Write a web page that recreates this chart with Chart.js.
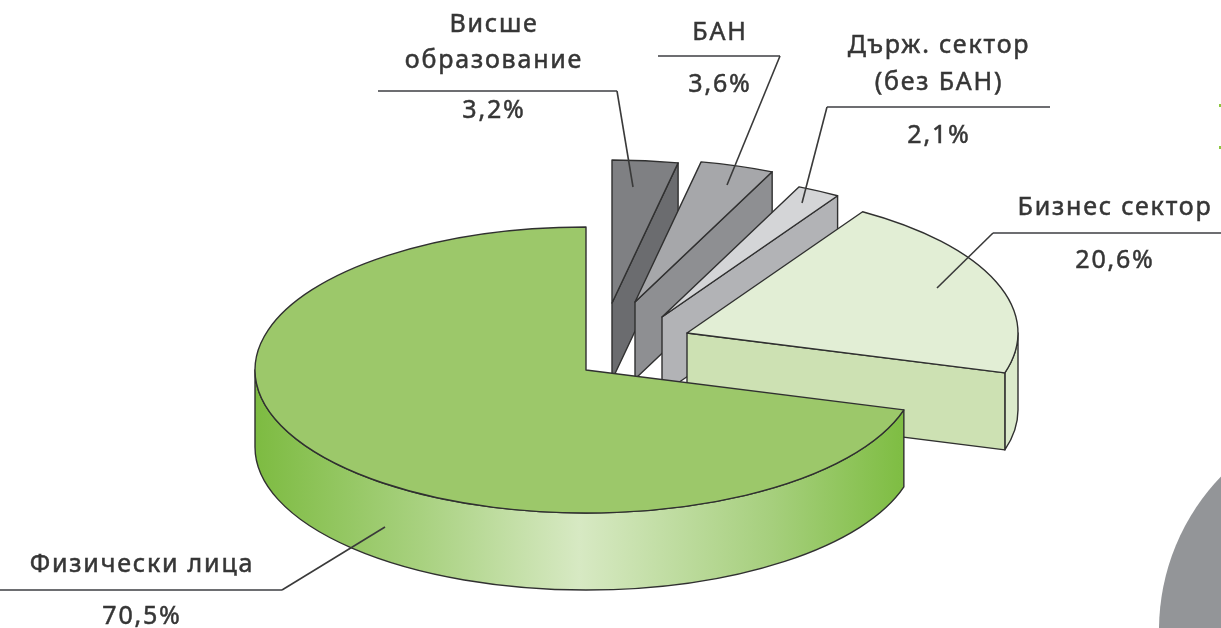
<!DOCTYPE html>
<html lang="bg">
<head>
<meta charset="utf-8">
<script src="https://cdn.jsdelivr.net/npm/chart.js@4.4.1/dist/chart.umd.min.js"></script>
<style>
  html, body { margin: 0; padding: 0; background: #fff; }
  #wrap { width: 1221px; height: 628px; position: relative; }
</style>
</head>
<body>
<div id="wrap"><canvas id="pie" lang="bg"></canvas></div>
<script>
// --- data ---
const categories = [['Висше', 'образование'], ['БАН'], ['Държ. сектор', '(без БАН)'], ['Бизнес сектор'], ['Физически лица']];
const shares = [3.2, 3.6, 2.1, 20.6, 70.5];

// --- look ---
const topColors  = ['#7f8083', '#a6a7aa', '#d4d5d7', '#e2eed5', '#9cc86a'];
const wallColors = ['#6b6c6f', '#8e8f92', '#b2b3b6', '#cde1b3', '#86c04a'];
const rimColors  = ['#707174', '#939497', '#bbbcbf', '#dbeacb', null]; // null -> gradient
// where each exploded slice's tip sits on the page (top face)
const sliceTip = [[612, 303], [635, 302], [662, 317], [687, 333], [586, 370]];
const RX = 331, RY = 143, DEPTH = 77;

// label layout (alphabetic baselines) and leader lines
const labelLayout = [
  { x: 494, ys: [32, 68], py: 118, line: [[378, 91], [617, 91], [633, 187]] },
  { x: 720, ys: [40], py: 92, line: [[658, 56], [780, 56], [727, 185]] },
  { x: 939, ys: [53, 90], py: 143, line: [[1050, 107], [827, 107], [802, 203]] },
  { x: 1115, ys: [215], py: 268, line: [[1221, 233], [993, 233], [937, 288]] },
  { x: 142, ys: [572], py: 624, line: [[0, 590], [282, 590], [385, 527]] }
];

function fmtPct(v) { return v.toFixed(1).replace('.', ',') + '%'; }

const pie3d = {
  id: 'pie3d',
  beforeDraw(chart) {
    const ctx = chart.ctx;
    ctx.save();
    ctx.fillStyle = '#939598';
    ctx.beginPath();
    ctx.arc(1380, 630, 221, 0, Math.PI * 2);
    ctx.fill();
    ctx.fillStyle = '#8dc63f';
    ctx.fillRect(1219, 104, 2, 3);
    ctx.fillRect(1219, 146, 2, 3);
    ctx.restore();
  },
  beforeDatasetsDraw(chart) {
    const ctx = chart.ctx;
    const arcs = chart.getDatasetMeta(0).data;
    ctx.save();
    ctx.lineJoin = 'round';
    ctx.strokeStyle = '#303030';
    ctx.lineWidth = 1.4;
    arcs.forEach((arc, i) => {
      const s = arc.startAngle, e = arc.endAngle;
      const cx = sliceTip[i][0], cy = sliceTip[i][1];
      const P = (a, d) => [cx + RX * Math.cos(a), cy + RY * Math.sin(a) + (d || 0)];
      // curved outer wall (front half only)
      const a1 = Math.max(s, 0), a2 = Math.min(e, Math.PI);
      if (a1 < a2) {
        ctx.beginPath();
        ctx.ellipse(cx, cy, RX, RY, 0, a1, a2);
        ctx.ellipse(cx, cy + DEPTH, RX, RY, 0, a2, a1, true);
        ctx.closePath();
        if (rimColors[i]) {
          ctx.fillStyle = rimColors[i];
        } else {
          const g = ctx.createLinearGradient(cx - RX, 0, cx + RX, 0);
          g.addColorStop(0, '#7dbb41');
          g.addColorStop(0.25, '#a8d17f');
          g.addColorStop(0.49, '#d7e9c3');
          g.addColorStop(0.78, '#a6cf7d');
          g.addColorStop(0.97, '#80be45');
          g.addColorStop(1, '#7dbb41');
          ctx.fillStyle = g;
        }
        ctx.fill();
        ctx.stroke();
      }
      // radial walls facing the viewer
      const wall = (a) => {
        const p = P(a), q = P(a, DEPTH);
        ctx.beginPath();
        ctx.moveTo(cx, cy);
        ctx.lineTo(p[0], p[1]);
        ctx.lineTo(q[0], q[1]);
        ctx.lineTo(cx, cy + DEPTH);
        ctx.closePath();
        ctx.fillStyle = wallColors[i];
        ctx.fill();
        ctx.stroke();
      };
      if (Math.cos(s) < -1e-6) wall(s);
      if (Math.cos(e) > 1e-6) wall(e);
      // top face
      const p0 = P(s);
      ctx.beginPath();
      ctx.moveTo(cx, cy);
      ctx.lineTo(p0[0], p0[1]);
      ctx.ellipse(cx, cy, RX, RY, 0, s, e);
      ctx.closePath();
      ctx.fillStyle = topColors[i];
      ctx.fill();
      ctx.stroke();
    });
    ctx.restore();
    return false;
  },
  afterDraw(chart) {
    const ctx = chart.ctx;
    ctx.save();
    // leader lines
    labelLayout.forEach(l => {
      ctx.beginPath();
      ctx.moveTo(l.line[0][0], l.line[0][1]);
      ctx.lineTo(l.line[1][0], l.line[1][1]);
      ctx.strokeStyle = '#6d6e71';
      ctx.lineWidth = 2.2;
      ctx.stroke();
      ctx.beginPath();
      ctx.moveTo(l.line[1][0], l.line[1][1]);
      ctx.lineTo(l.line[2][0], l.line[2][1]);
      ctx.strokeStyle = '#3a3a3a';
      ctx.lineWidth = 1.6;
      ctx.stroke();
    });
    // labels
    ctx.fillStyle = '#363636';
    ctx.strokeStyle = '#363636';
    ctx.lineWidth = 0.5;
    ctx.textAlign = 'center';
    ctx.textBaseline = 'alphabetic';
    ctx.font = '25px "Noto Sans"';
    if ('letterSpacing' in ctx) ctx.letterSpacing = '1.8px';
    const put = (t, x, y) => { ctx.fillText(t, x, y); ctx.strokeText(t, x, y); };
    categories.forEach((lines, i) => {
      const l = labelLayout[i];
      lines.forEach((t, j) => put(t, l.x, l.ys[j]));
      put(fmtPct(shares[i]), l.x, l.py);
    });
    ctx.restore();
  }
};

new Chart(document.getElementById('pie'), {
  type: 'pie',
  data: {
    labels: categories,
    datasets: [{
      data: shares,
      backgroundColor: topColors
    }]
  },
  options: {
    responsive: true,
    maintainAspectRatio: false,
    animation: false,
    plugins: {
      legend: { display: false },
      tooltip: { enabled: false }
    }
  },
  plugins: [pie3d]
});
</script>
</body>
</html>
